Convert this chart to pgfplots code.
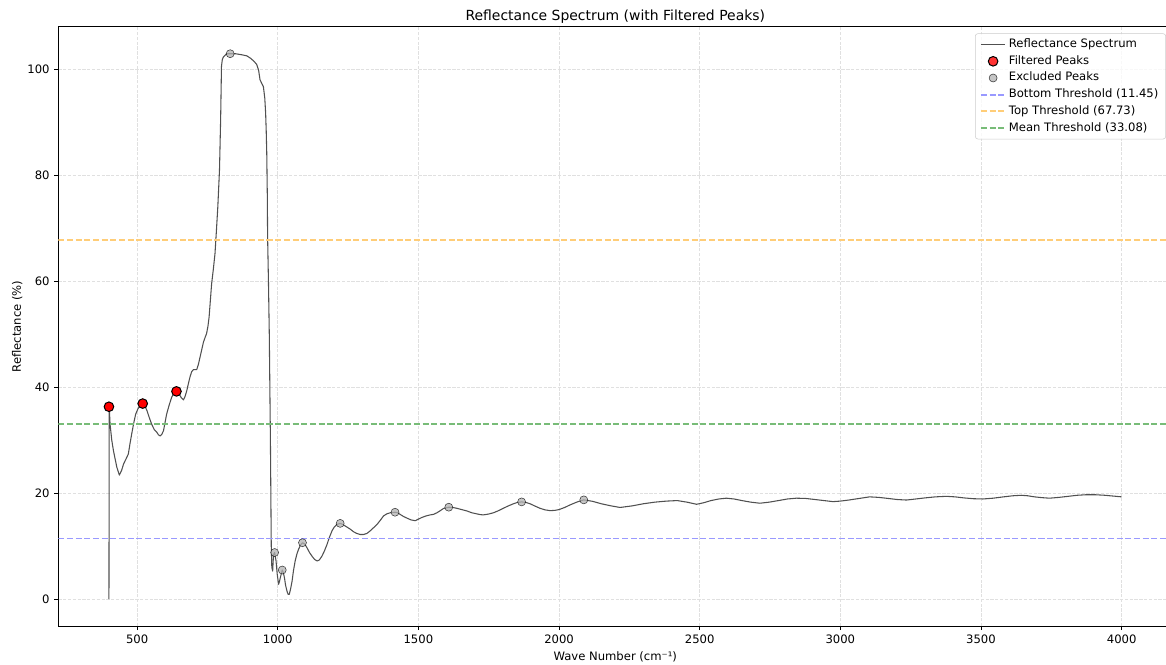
\documentclass[border=0pt]{standalone}
\usepackage{pgfplots}
\pgfplotsset{compat=1.18}
\usepackage{fontspec}
\setmainfont{DejaVu Sans}
\definecolor{specc}{RGB}{80,80,80}
\definecolor{bluet}{RGB}{153,153,255}
\definecolor{oranget}{RGB}{255,205,120}
\definecolor{greent}{RGB}{120,188,120}
\definecolor{gridc}{RGB}{224,224,224}
\definecolor{legc}{RGB}{204,204,204}
\begin{document}
\begin{tikzpicture}
\begin{axis}[
  name=ax,
  scale only axis,
  width=834.75pt, height=449.25pt,
  xmin=220, xmax=4180, ymin=-5.1, ymax=108.0,
  xtick={500,1000,1500,2000,2500,3000,3500,4000},
  ytick={0,20,40,60,80,100},
  xtick pos=left, ytick pos=left,
  tick align=outside,
  major tick length=3pt,
  every tick/.style={black, line width=0.6pt},
  axis line style={black, line width=0.6pt},
  /pgf/number format/assume math mode=true,
  /pgf/number format/set thousands separator={},
  ticklabel style={font=\fontsize{8.7}{10.4}\selectfont},
  grid=major,
  major grid style={gridc, dash pattern=on 2.5pt off 1.1pt, line width=0.5pt},
  title={Reflectance Spectrum (with Filtered Peaks)},
  title style={font=\fontsize{10.45}{12.5}\selectfont, at={(axis description cs:0.5,1)}, anchor=base, inner sep=0pt, yshift=-1.2pt},
  xlabel={Wave Number (cm⁻¹)},
  xlabel style={font=\fontsize{8.7}{10.4}\selectfont, at={(axis description cs:0.5,-0.0506)}, anchor=center},
  ylabel={Reflectance (\%)},
  ylabel style={font=\fontsize{8.7}{10.4}\selectfont, at={(axis description cs:-0.0368,0.5)}, anchor=center},
  legend cell align=left,
  legend image code/.code={\draw[mark repeat=2,mark phase=2,#1] plot coordinates {(0pt,0pt) (9.2pt,0pt) (18.4pt,0pt)};},
  legend style={at={(axis description cs:1,1)}, anchor=north east, xshift=-4.7pt, yshift=-5pt,
    font=\fontsize{8.7}{10.4}\selectfont, draw=legc, rounded corners=2pt,
    fill=white, fill opacity=0.8, text opacity=1, draw opacity=1,
    nodes={text height=6.3pt, text depth=1.8pt, inner ysep=2.2pt},
    inner xsep=3.5pt, inner ysep=2pt},
]
\addplot[specc, line width=0.8pt, line join=round] coordinates {
(400,0) (401,36.3) (404,33.0) (410,30.0) (416,28.0) (428,24.9) (437,23.4) (445,24.3) (452,25.5) (462,26.6) (469,27.4) (475,29.4) (481,31.2) (488,33.2) (495,34.9)
(503,35.9) (511,36.5) (520,36.9) (527,36.5) (535,35.6) (543,34.3) (552,33.0) (561,32.0) (570,31.5) (576,31.0) (582,30.8) (588,31.1) (594,31.8) (599,33.2) (605,34.9) (614,36.6) (623,38.1) (632,38.9) (640,39.2)
(648,38.8) (656,38.1) (665,37.6) (671,38.3) (677,39.4) (683,40.8) (688,41.9) (694,42.9) (700,43.3) (706,43.3) (712,43.3) (718,44.3) (724,45.7) (730,47.1) (736,48.5) (742,49.4) (747,50.1) (752,51.5) (756,53.2)
(760,56.0) (765,59.5) (771,62.2) (777,65.2) (782,69.5) (787,74.0) (793,81.0) (797,90.4) (799,97.0) (800,100.5) (803,101.8) (807,102.3) (818,102.9) (831,102.9) (850,102.9) (872,102.7)
(890,102.5) (902,102.1) (915,101.5) (925,100.9) (932,99.8) (937,98.0) (944,97.2) (949,96.7) (954,94.5) (957,91.7) (959,88.5) (961,84.1) (963,76.0) (964,68.4) (967,60.0) (970,50.0) (974,30.0)
(977,10.0) (979,6.0) (982,5.3) (985,8.45) (989,8.8) (994,7.2) (998,4.8) (1003,2.8) (1006,3.3) (1009,4.0) (1016,5.5) (1020,5.0) (1024,4.0) (1028,2.6)
(1033,1.5) (1037,0.9) (1041,0.9) (1046,2.0) (1051,3.4) (1056,5.4) (1062,7.2) (1068,8.5) (1074,9.4) (1081,10.2) (1088,10.65) (1096,10.4) (1104,9.7) (1113,8.8) (1122,8.1) (1131,7.5) (1140,7.2) (1148,7.4) (1157,8.1)
(1166,9.1) (1175,10.3) (1184,11.7) (1193,12.9) (1201,13.6) (1210,14.1) (1222,14.3) (1231,14.1) (1240,13.8) (1249,13.5) (1258,13.2) (1270,12.7) (1281,12.4) (1293,12.2) (1305,12.2) (1317,12.4) (1329,12.9) (1341,13.5) (1353,14.1)
(1365,14.9) (1376,15.7) (1388,16.1) (1400,16.3) (1417,16.4) (1426,16.3) (1435,16.0) (1447,15.6) (1459,15.3) (1474,14.95) (1489,14.8) (1500,15.1) (1512,15.4) (1527,15.7) (1542,15.9) (1554,16.0) (1566,16.3) (1578,16.7) (1589,17.1)
(1608,17.35) (1622,17.3) (1636,17.15) (1654,16.9) (1672,16.65) (1690,16.3) (1707,16.1) (1720,15.95) (1731,15.9) (1749,16.05) (1767,16.3) (1785,16.7) (1802,17.15) (1820,17.6) (1838,18.0) (1852,18.25) (1867,18.35) (1882,18.25) (1897,18.0)
(1915,17.55) (1932,17.15) (1950,16.85) (1968,16.7) (1985,16.75) (2000,16.9) (2020,17.3) (2040,17.8) (2065,18.35) (2088,18.73) (2120,18.45) (2150,18.0) (2185,17.6) (2217,17.3) (2260,17.6) (2300,18.0) (2340,18.3) (2382,18.5) (2420,18.6)
(2455,18.3) (2489,17.9) (2515,18.2) (2540,18.6) (2568,18.9) (2595,19.05) (2622,18.9) (2650,18.6) (2682,18.3) (2714,18.1) (2747,18.3) (2780,18.6) (2812,18.9) (2844,19.05) (2877,19.0) (2910,18.8) (2942,18.6) (2974,18.4) (3000,18.5) (3030,18.7)
(3067,19.0) (3104,19.3) (3137,19.2) (3170,19.0) (3202,18.8) (3235,18.7) (3268,18.9) (3300,19.1) (3338,19.3) (3377,19.4) (3408,19.3) (3440,19.1) (3473,18.95) (3507,18.9) (3543,19.05) (3580,19.3) (3612,19.5) (3643,19.6) (3667,19.5) (3690,19.3)
(3717,19.15) (3744,19.05) (3777,19.2) (3810,19.4) (3842,19.6) (3874,19.7) (3907,19.7) (3940,19.6) (3970,19.45) (4000,19.3)
};
\addlegendentry{Reflectance Spectrum}
\addplot[only marks, mark=*, mark size=3.6pt, mark options={fill=red, draw=black, line width=0.75pt}] coordinates {
(400,36.3) (520,36.9) (640,39.2)
};
\addlegendentry{Filtered Peaks}
\addplot[only marks, mark=*, mark size=3pt, mark options={fill=gray!60, draw=none}, opacity=0.75] coordinates {
(831,102.9) (989,8.8) (1016,5.5) (1088,10.65) (1222,14.3) (1417,16.4) (1608,17.35) (1867,18.35) (2088,18.73)
};
\addlegendentry{Excluded Peaks}
\addplot[bluet, line width=1.3pt, dash pattern=on 4.5pt off 2pt] coordinates {(220,11.45) (4180,11.45)};
\addlegendentry{Bottom Threshold (11.45)}
\addplot[oranget, line width=1.3pt, dash pattern=on 4.5pt off 2pt] coordinates {(220,67.73) (4180,67.73)};
\addlegendentry{Top Threshold (67.73)}
\addplot[greent, line width=1.3pt, dash pattern=on 4.5pt off 2pt] coordinates {(220,33.08) (4180,33.08)};
\addlegendentry{Mean Threshold (33.08)}
\end{axis}
\pgfresetboundingbox
\path[use as bounding box] ([xshift=-43.7pt,yshift=-28.7pt]ax.south west) rectangle ([xshift=-4.7pt,yshift=20pt]ax.north east);
\end{tikzpicture}
\end{document}
